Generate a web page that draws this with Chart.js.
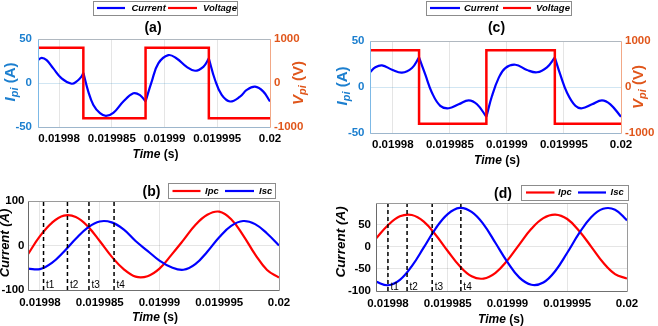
<!DOCTYPE html>
<html>
<head>
<meta charset="utf-8">
<title>Current and voltage waveforms</title>
<script src="https://cdn.jsdelivr.net/npm/chart.js@4.4.1/dist/chart.umd.min.js"></script>
<style>
  html, body { margin: 0; padding: 0; background: #ffffff; }
  #wrap { position: relative; width: 658px; height: 326px; overflow: hidden; }
  #wrap canvas { position: absolute; left: 0; top: 0; }
</style>
</head>
<body>
<div id="wrap">
  <canvas id="chart-a" width="658" height="326"></canvas>
  <canvas id="chart-b" width="658" height="326"></canvas>
  <canvas id="chart-c" width="658" height="326"></canvas>
  <canvas id="chart-d" width="658" height="326"></canvas>
</div>
<script>
/* axes */
const timeTicks = [0.01998, 0.019985, 0.01999, 0.019995, 0.02];
const timeTickLabels = ["0.01998", "0.019985", "0.01999", "0.019995", "0.02"];
const timeRangeTop = [0.019978, 0.02];
const timeRangeBottom = [0.019979, 0.02];
const currentRangeTop = [-50, 50];
const currentTicksTop = [-50, 0, 50];
const voltageRange = [-1000, 1000];
const voltageTicks = [-1000, 0, 1000];
const currentRangeB = [-100, 100];
const currentTicksB = [-100, 0, 100];
const currentRangeD = [-100, 98];
const currentTicksD = [-100, -50, 0, 50];

const legendTop = ["Current", "Voltage"];
const legendBottom = ["Ipc", "Isc"];

/* square wave voltage, (a) and (c) */
const switchTimes = [0.0199823, 0.0199882, 0.0199942];
const voltageTimes = [0.019978, 0.0199823, 0.0199882, 0.0199942, 0.02];
const voltageLevels = [800, -800, 800, -800, -800];

/* (a) current */
const timeA = [
  0.019978, 0.01997835, 0.01997882, 0.01997945, 0.01998024, 0.01998119,
  0.01998167, 0.0199821, 0.0199823,
  0.01998277, 0.01998325, 0.01998388, 0.01998445, 0.01998514, 0.01998609,
  0.01998704, 0.01998767, 0.0199882,
  0.01998878, 0.01998941, 0.01999036, 0.01999115, 0.0199921, 0.01999289,
  0.01999368, 0.0199942,
  0.01999479, 0.01999542, 0.01999621, 0.01999716, 0.01999779, 0.01999858,
  0.01999937, 0.02,
];
const currentA = [
  26, 28.6, 26, 16.6, 5.3, -0.8,
  1.8, 7, 11.5,
  -9.8, -24.9, -34.3, -37.3, -34, -21,
  -11.7, -13.8, -21,
  1.5, 22.3, 31.7, 27.9, 18.4, 13.9,
  18.4, 27.9,
  3.4, -13.6, -21, -15.5, -7.9, -4.2,
  -9.8, -21,
];

/* (c) current */
const timeC = [
  0.019978, 0.01997847, 0.01997905, 0.01997993, 0.0199808, 0.01998168,
  0.0199823,
  0.01998285, 0.01998343, 0.01998416, 0.0199849, 0.01998577, 0.01998665,
  0.01998738, 0.0199882,
  0.01998869, 0.01998928, 0.01998986, 0.01999074, 0.01999176, 0.01999264,
  0.01999351, 0.0199942,
  0.01999468, 0.01999527, 0.019996, 0.01999658, 0.01999746, 0.01999833,
  0.01999907, 0.02,
];
const currentC = [
  16, 21.4, 23.5, 18.8, 15.6, 20.6,
  32.1,
  13.4, -6.2, -20.5, -23.1, -18.8, -14.5,
  -18.8, -32.4,
  -9.8, 9.9, 20.6, 24.2, 18.5, 16,
  21.4, 32.1,
  13.4, -6.2, -20.5, -23.1, -18.8, -14.5,
  -18.8, -32.4,
];

/* (b) and (d) currents */
const timeBD = [
  0.019979, 0.01998, 0.019981, 0.019982, 0.019983, 0.019984, 0.019985,
  0.019986, 0.019987, 0.019988, 0.019989, 0.01999, 0.019991, 0.019992,
  0.019993, 0.019994, 0.019995, 0.019996, 0.019997, 0.019998, 0.019999, 0.02,
];
const ipcB = [-19.5, 21, 51, 67, 64, 43, 10, -25, -53, -70, -69, -52, -21, 12, 46, 69, 76, 59, 23, -20, -55, -72];
const iscB = [-52, -53, -39, -14, 15, 40, 54, 52, 36, 10, -12, -34, -49, -54.5, -42, -14, 18.5, 44, 55, 48, 27, 0];
const ipcD = [18, 48, 68, 71, 56, 26, -10, -44, -67, -72, -59, -31, 5, 40, 64, 72, 62, 35, 0, -36, -62, -72];
const iscD = [-79, -87, -75, -44, -2, 41, 73, 87, 78, 50, 8, -35, -70, -86, -81, -55, -14, 30, 66, 85, 83, 59];

const markersB = [0.0199803, 0.0199823, 0.0199841, 0.0199862];
const markersD = [0.01998, 0.0199816, 0.0199837, 0.0199861];
const markerLabels = ["t1", "t2", "t3", "t4"];

const FONT = '"Liberation Sans", Arial, Helvetica, sans-serif';
const LEFT_COLOR = "#1c7fcf";
const RIGHT_COLOR = "#e0561b";
const W = 658;
const H = 326;

// split a curve into pieces at the switching instants so the cusps stay sharp
function splitAtCusps(times, values, cuts) {
  const pieces = [];
  let cur = [];
  times.forEach((t, i) => {
    cur.push({ x: t, y: values[i] });
    if (cuts.includes(t) && cur.length > 1) {
      pieces.push(cur);
      cur = [{ x: t, y: values[i] }];
    }
  });
  if (cur.length > 1) pieces.push(cur);
  return pieces;
}

function toPoints(times, values) {
  return times.map((t, i) => ({ x: t, y: values[i] }));
}

function alignPx(v) {
  return Math.round(v - 0.5) + 0.5;
}

function drawRuns(ctx, runs, cx, cy, angle, color) {
  ctx.save();
  ctx.translate(cx, cy);
  ctx.rotate(angle);
  ctx.fillStyle = color;
  ctx.textBaseline = "middle";
  ctx.textAlign = "left";
  let total = 0;
  runs.forEach((r) => {
    ctx.font = r.font;
    r.w = ctx.measureText(r.text).width;
    total += r.w;
  });
  let x = -total / 2;
  runs.forEach((r) => {
    ctx.font = r.font;
    ctx.fillText(r.text, x, r.dy || 0);
    x += r.w;
  });
  ctx.restore();
}

const decorPlugin = {
  id: "decor",
  afterDraw(chart, args, opts) {
    const ctx = chart.ctx;
    const a = chart.chartArea;
    ctx.save();

    // axes box
    const L = alignPx(a.left), R = alignPx(a.right);
    const T = alignPx(a.top), B = alignPx(a.bottom);
    ctx.lineWidth = 1;
    const seg = (x1, y1, x2, y2, c) => {
      ctx.strokeStyle = c;
      ctx.beginPath();
      ctx.moveTo(x1, y1);
      ctx.lineTo(x2, y2);
      ctx.stroke();
    };
    seg(L, T, R, T, opts.frame.top);
    seg(L, B, R, B, opts.frame.bottom);
    seg(L, T, L, B, opts.frame.left);
    seg(R, T, R, B, opts.frame.right);

    // t1..t4 labels next to the dashed lines
    if (opts.markers) {
      const xs = chart.scales.x;
      ctx.fillStyle = "#000";
      ctx.font = `10px ${FONT}`;
      ctx.textBaseline = "middle";
      ctx.textAlign = "left";
      opts.markers.forEach((t, i) => {
        ctx.fillText(markerLabels[i], xs.getPixelForValue(t) + 2.5, opts.markerY);
      });
    }

    // subplot title
    ctx.fillStyle = "#000";
    ctx.font = `bold 14px ${FONT}`;
    ctx.textAlign = "center";
    ctx.textBaseline = "middle";
    ctx.fillText(opts.title.text, opts.title.x, opts.title.y);

    // legend
    const lg = opts.legend;
    ctx.fillStyle = "#fff";
    ctx.fillRect(lg.box[0], lg.box[1], lg.box[2], lg.box[3]);
    ctx.strokeStyle = "#8c8c8c";
    ctx.strokeRect(lg.box[0] + 0.5, lg.box[1] + 0.5, lg.box[2], lg.box[3]);
    lg.items.forEach((it) => {
      ctx.strokeStyle = it.color;
      ctx.lineWidth = 2.2;
      ctx.beginPath();
      ctx.moveTo(it.x1, lg.y);
      ctx.lineTo(it.x2, lg.y);
      ctx.stroke();
      ctx.fillStyle = "#000";
      ctx.font = `italic bold 9.5px ${FONT}`;
      ctx.textAlign = "left";
      ctx.textBaseline = "middle";
      ctx.fillText(it.text, it.tx, lg.y);
    });

    // axis titles
    drawRuns(ctx, [
      { text: "Time", font: `italic bold 12px ${FONT}` },
      { text: " (s)", font: `bold 12px ${FONT}` },
    ], opts.xTitle.x, opts.xTitle.y, 0, "#000");
    opts.yTitles.forEach((yt) => {
      drawRuns(ctx, yt.runs, yt.x, yt.y, -Math.PI / 2, yt.color);
    });

    ctx.restore();
  },
};

function timeAxis(range, pad, gridColor) {
  return {
    type: "linear",
    position: "bottom",
    min: range[0],
    max: range[1],
    afterBuildTicks: (s) => { s.ticks = timeTicks.map((v) => ({ value: v })); },
    afterFit: (s) => {
      s.height = 22;
      s.paddingLeft = 0; s.paddingRight = 0; s.paddingTop = 0; s.paddingBottom = 0;
    },
    border: { display: false },
    grid: { color: gridColor, lineWidth: 1, drawTicks: false },
    ticks: {
      autoSkip: false,
      maxRotation: 0,
      minRotation: 0,
      padding: pad,
      color: "#000",
      font: { family: FONT, size: 11.5, weight: "bold" },
      callback: (v, i) => timeTickLabels[i],
    },
  };
}

function valueAxis(position, range, ticks, width, pad, color, gridColor, onArea) {
  return {
    type: "linear",
    position,
    min: range[0],
    max: range[1],
    afterBuildTicks: (s) => { s.ticks = ticks.map((v) => ({ value: v })); },
    afterFit: (s) => {
      s.width = width;
      s.paddingLeft = 0; s.paddingRight = 0; s.paddingTop = 0; s.paddingBottom = 0;
    },
    border: { display: false },
    grid: { color: gridColor, lineWidth: 1, drawTicks: false, drawOnChartArea: onArea },
    ticks: {
      padding: pad,
      color,
      font: { family: FONT, size: 11.5, weight: "bold" },
      callback: (v) => String(v),
    },
  };
}

function baseOptions(area, wl, wr, hx) {
  return {
    responsive: false,
    animation: false,
    devicePixelRatio: 1,
    events: [],
    layout: {
      autoPadding: false,
      padding: {
        left: area.left - wl,
        top: area.top,
        right: W - area.right - wr,
        bottom: H - area.bottom - hx,
      },
    },
  };
}

function makeTopChart(canvasId, area, times, currents, deco) {
  const datasets = splitAtCusps(times, currents, switchTimes).map((piece) => ({
    label: legendTop[0],
    data: piece,
    yAxisID: "y",
    borderColor: "#0000ff",
    borderWidth: 2.2,
    tension: 0.4,
    pointRadius: 0,
    order: 2,
  }));
  datasets.push({
    label: legendTop[1],
    data: toPoints(voltageTimes, voltageLevels),
    yAxisID: "y2",
    stepped: "before",
    borderColor: "#ff0000",
    borderWidth: 2.5,
    pointRadius: 0,
    order: 1,
  });
  const opts = baseOptions(area, 40, 40, 22);
  opts.scales = {
    x: timeAxis(timeRangeTop, area.xPad, "rgba(38,38,38,0.12)"),
    y: valueAxis("left", currentRangeTop, currentTicksTop, 40, area.yPad, LEFT_COLOR, "rgba(0,114,189,0.18)", true),
    y2: valueAxis("right", voltageRange, voltageTicks, 40, area.y2Pad, RIGHT_COLOR, "rgba(0,0,0,0)", false),
  };
  opts.plugins = { legend: { display: false }, tooltip: { enabled: false }, decor: deco };
  return new Chart(document.getElementById(canvasId), {
    type: "line",
    data: { datasets },
    options: opts,
    plugins: [decorPlugin],
  });
}

function makeBottomChart(canvasId, area, ipc, isc, markers, range, ticks, deco) {
  const datasets = [
    {
      label: legendBottom[0],
      data: toPoints(timeBD, ipc),
      borderColor: "#ff0000",
      borderWidth: 2.2,
      tension: 0.4,
      pointRadius: 0,
      order: 2,
    },
    {
      label: legendBottom[1],
      data: toPoints(timeBD, isc),
      borderColor: "#0000ff",
      borderWidth: 2.2,
      tension: 0.4,
      pointRadius: 0,
      order: 1,
    },
  ];
  markers.forEach((t, i) => {
    datasets.push({
      label: markerLabels[i],
      data: [{ x: t, y: range[0] }, { x: t, y: range[1] }],
      borderColor: "#000000",
      borderWidth: 1.5,
      borderDash: [4, 3],
      pointRadius: 0,
      order: 0,
    });
  });
  const opts = baseOptions(area, area.left, 0, 22);
  opts.scales = {
    x: timeAxis(timeRangeBottom, area.xPad, "rgba(38,38,38,0.12)"),
    y: valueAxis("left", range, ticks, area.left, area.yPad, "#000", "rgba(38,38,38,0.12)", true),
  };
  opts.plugins = { legend: { display: false }, tooltip: { enabled: false }, decor: deco };
  return new Chart(document.getElementById(canvasId), {
    type: "line",
    data: { datasets },
    options: opts,
    plugins: [decorPlugin],
  });
}

const topFrame = { top: "#b0b8c0", bottom: "#9db6cc", left: "#7db9e6", right: "#f2a886" };
const bottomFrame = { top: "#9a9a9a", bottom: "#707070", left: "#6a6a6a", right: "#9a9a9a" };

function yTitleTop(letter, unit, x, y, color) {
  return {
    x, y, color,
    runs: [
      { text: letter, font: `italic bold 15px ${FONT}` },
      { text: "pi", font: `italic bold 11px ${FONT}`, dy: 4 },
      { text: ` (${unit})`, font: `bold 15px ${FONT}` },
    ],
  };
}

function yTitleBottom(x, y, size) {
  return {
    x, y, color: "#000",
    runs: [{ text: "Current (A)", font: `italic bold ${size}px ${FONT}` }],
  };
}

makeTopChart("chart-a", { left: 38, right: 270, top: 39, bottom: 127, xPad: 5, yPad: 6, y2Pad: 4 }, timeA, currentA, {
  frame: topFrame,
  title: { text: "(a)", x: 153, y: 28.5 },
  legend: {
    box: [93, 1, 144, 14], y: 8,
    items: [
      { color: "#0000ff", x1: 97, x2: 125, text: legendTop[0], tx: 131.5 },
      { color: "#ff0000", x1: 168, x2: 197, text: legendTop[1], tx: 203 },
    ],
  },
  xTitle: { x: 155.5, y: 155 },
  yTitles: [
    yTitleTop("I", "A", 11, 82, LEFT_COLOR),
    yTitleTop("V", "V", 299, 83, RIGHT_COLOR),
  ],
});

makeTopChart("chart-c", { left: 370, right: 621, top: 41, bottom: 133, xPad: 5, yPad: 5.5, y2Pad: 4 }, timeC, currentC, {
  frame: topFrame,
  title: { text: "(c)", x: 496.5, y: 28 },
  legend: {
    box: [426, 1, 145, 14], y: 8,
    items: [
      { color: "#0000ff", x1: 430, x2: 460, text: legendTop[0], tx: 464 },
      { color: "#ff0000", x1: 503, x2: 531, text: legendTop[1], tx: 536 },
    ],
  },
  xTitle: { x: 497, y: 160.5 },
  yTitles: [
    yTitleTop("I", "A", 343, 86, LEFT_COLOR),
    yTitleTop("V", "V", 639, 87, RIGHT_COLOR),
  ],
});

makeBottomChart("chart-b", { left: 28, right: 279, top: 201, bottom: 290, xPad: 5.5, yPad: 3.5 },
  ipcB, iscB, markersB, currentRangeB, currentTicksB, {
    frame: bottomFrame,
    markers: markersB,
    markerY: 285,
    title: { text: "(b)", x: 151.5, y: 192.5 },
    legend: {
      box: [168, 183, 107, 15], y: 191,
      items: [
        { color: "#ff0000", x1: 172.5, x2: 200.5, text: legendBottom[0], tx: 205 },
        { color: "#0000ff", x1: 225, x2: 254, text: legendBottom[1], tx: 259 },
      ],
    },
    xTitle: { x: 155, y: 318 },
    yTitles: [yTitleBottom(5.5, 243, 13)],
  });

makeBottomChart("chart-d", { left: 376, right: 627, top: 203, bottom: 291, xPad: 6, yPad: 5 },
  ipcD, iscD, markersD, currentRangeD, currentTicksD, {
    frame: bottomFrame,
    markers: markersD,
    markerY: 287.5,
    title: { text: "(d)", x: 503, y: 194 },
    legend: {
      box: [521, 185, 107, 15], y: 192.5,
      items: [
        { color: "#ff0000", x1: 526, x2: 554.5, text: legendBottom[0], tx: 558 },
        { color: "#0000ff", x1: 578, x2: 606, text: legendBottom[1], tx: 610.5 },
      ],
    },
    xTitle: { x: 501, y: 320 },
    yTitles: [yTitleBottom(341, 242, 13.5)],
  });
</script>
</body>
</html>
